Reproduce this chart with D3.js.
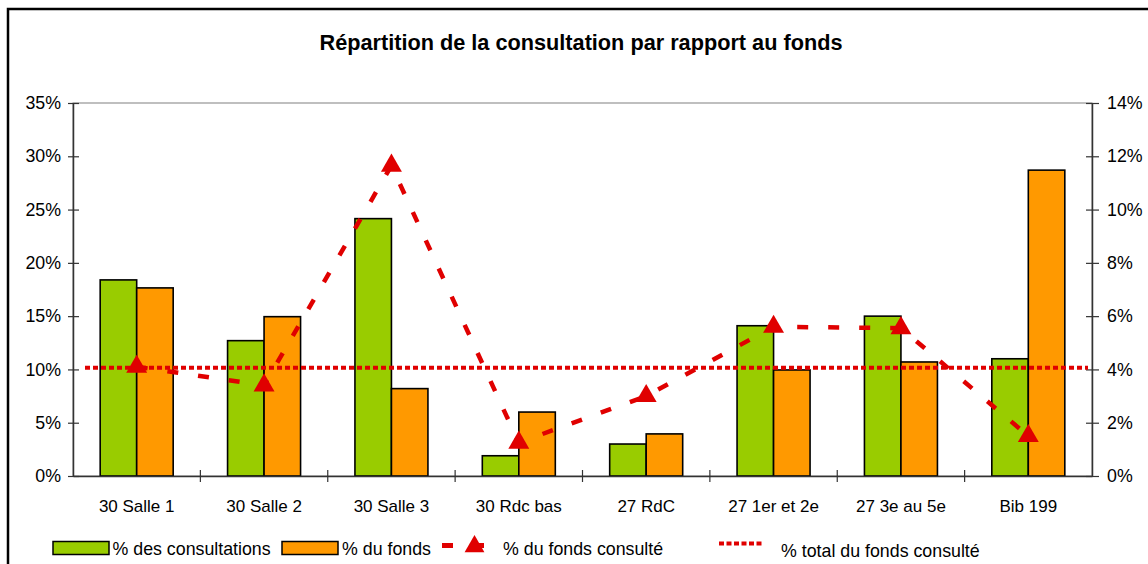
<!DOCTYPE html>
<html><head><meta charset="utf-8">
<script src="https://cdn.jsdelivr.net/npm/d3@7"></script>
<style>body{margin:0;background:#fff} text{font-family:"Liberation Sans",Arial,sans-serif;fill:#000}</style>
</head><body><svg id="c" width="1148" height="564"></svg>
<script>
const categories = ["30 Salle 1","30 Salle 2","30 Salle 3","30 Rdc bas","27 RdC","27 1er et 2e","27 3e au 5e","Bib 199"];
const pctConsultations = [18.4,12.7,24.15,1.9,3.0,14.1,15.0,11.0];
const pctFonds = [17.65,14.95,8.2,6.0,3.95,9.95,10.7,28.7];
const pctFondsConsulte = [4.1,3.4,11.65,1.25,3.0,5.6,5.55,1.5];
const pctTotalFondsConsulte = [4.06];
const leftTicks = [0,5,10,15,20,25,30,35];
const rightTicks = [0,2,4,6,8,10,12,14];
const seriesNames = ["% des consultations","% du fonds","% du fonds consulté","% total du fonds consulté"];
const title = "Répartition de la consultation par rapport au fonds";

const GREEN="#99cc00", ORANGE="#ff9900", RED="#e00000";
const svg = d3.select("#c");
const L=73, R=1092, T=103, B=476;

// frame
svg.append("path").attr("d","M8,564V9H1148").attr("fill","none").attr("stroke","#000").attr("stroke-width",2.5);

svg.append("text").attr("x",581).attr("y",50).attr("text-anchor","middle")
  .style("font-weight","bold").style("font-size","21.7px").text(title);

const x = d3.scaleBand().domain(categories).range([L,R]).padding(0);
const inner = d3.scaleBand().domain([0,1]).range([0,73]);
const yL = d3.scaleLinear().domain([0,35]).range([B,T]);
const yR = d3.scaleLinear().domain([0,14]).range([B,T]);

// plot area border
svg.append("rect").attr("x",L).attr("y",T).attr("width",R-L).attr("height",B-T)
  .attr("fill","none").attr("stroke","#808080").attr("stroke-width",1);

const ctr = c => x(c)+x.bandwidth()/2;

// bars
const g = svg.append("g");
[[pctConsultations,GREEN],[pctFonds,ORANGE]].forEach(([vals,col],si)=>{
  g.selectAll(null).data(vals).enter().append("rect")
    .attr("x",(d,i)=>ctr(categories[i])-36.5+inner(si))
    .attr("y",d=>yL(d)).attr("width",inner.bandwidth()).attr("height",d=>B-yL(d))
    .attr("fill",col).attr("stroke","#000").attr("stroke-width",1.6);
});

// axes
const axL = svg.append("g").attr("transform",`translate(${L},0)`)
  .call(d3.axisLeft(yL).tickValues(leftTicks).tickFormat(d=>d+"%").tickSizeInner(5).tickSizeOuter(0).tickPadding(7));
axL.selectAll(".tick line").attr("x2",-5).attr("x1",6);
const axR = svg.append("g").attr("transform",`translate(${R},0)`)
  .call(d3.axisRight(yR).tickValues(rightTicks).tickFormat(d=>d+"%").tickSizeInner(6).tickSizeOuter(0).tickPadding(9));
axR.selectAll(".tick line").attr("x2",7).attr("x1",-6);
const axB = svg.append("g").attr("transform",`translate(0,${B})`)
  .call(d3.axisBottom(x).tickSize(0).tickSizeOuter(0).tickPadding(24));
[axL,axR,axB].forEach(a=>{
  a.select(".domain").attr("stroke","#333").attr("stroke-width",1.5);
  a.selectAll(".tick line").attr("stroke","#333").attr("stroke-width",1.2);
  a.selectAll("text").attr("fill","#000").style("font-family",'"Liberation Sans",Arial,sans-serif');
});
axL.selectAll("text").style("font-size","17.8px");
axR.selectAll("text").style("font-size","17.8px");
axB.selectAll("text").style("font-size","17px");
// category boundary ticks
svg.append("g").selectAll(null).data(categories.slice(1)).enter().append("line")
  .attr("x1",d=>x(d)).attr("x2",d=>x(d)).attr("y1",B-6).attr("y2",B+6)
  .attr("stroke","#333").attr("stroke-width",1.2);

// total line
svg.append("line").attr("x1",85).attr("x2",1088)
  .attr("y1",yR(pctTotalFondsConsulte[0])).attr("y2",yR(pctTotalFondsConsulte[0]))
  .attr("stroke",RED).attr("stroke-width",4).attr("stroke-dasharray","5,3");

// dashed line with triangles
const line = d3.line().x((d,i)=>ctr(categories[i])).y(d=>yR(d));
svg.append("path").attr("d",line(pctFondsConsulte)).attr("fill","none")
  .attr("stroke",RED).attr("stroke-width",4.5).attr("stroke-dasharray","11,20");
svg.append("g").selectAll(null).data(pctFondsConsulte).enter().append("path")
  .attr("d",d3.symbol(d3.symbolTriangle,190)())
  .attr("transform",(d,i)=>`translate(${ctr(categories[i])},${yR(d)})`).attr("fill",RED);

// legend
const lg = svg.append("g").attr("transform","translate(0,-2.5)");
const fs = "17.8px";
lg.append("rect").attr("x",53).attr("y",544).attr("width",56).attr("height",13).attr("fill",GREEN).attr("stroke","#000").attr("stroke-width",1.5);
lg.append("text").attr("x",112.5).attr("y",557).style("font-size",fs).text(seriesNames[0]);
lg.append("rect").attr("x",282).attr("y",544).attr("width",56).attr("height",13).attr("fill",ORANGE).attr("stroke","#000").attr("stroke-width",1.5);
lg.append("text").attr("x",342).attr("y",557).style("font-size",fs).text(seriesNames[1]);
lg.append("line").attr("x1",442).attr("x2",485).attr("y1",548).attr("y2",548).attr("stroke",RED).attr("stroke-width",5).attr("stroke-dasharray","11,20");
lg.append("path").attr("d",d3.symbol(d3.symbolTriangle,170)()).attr("transform","translate(474.5,549)").attr("fill",RED);
lg.append("text").attr("x",503).attr("y",557).style("font-size",fs).text(seriesNames[2]);
lg.append("line").attr("x1",719).attr("x2",762).attr("y1",546).attr("y2",546).attr("stroke",RED).attr("stroke-width",4).attr("stroke-dasharray","5,2.5");
lg.append("text").attr("x",781).attr("y",559.5).style("font-size",fs).text(seriesNames[3]);
</script></body></html>
